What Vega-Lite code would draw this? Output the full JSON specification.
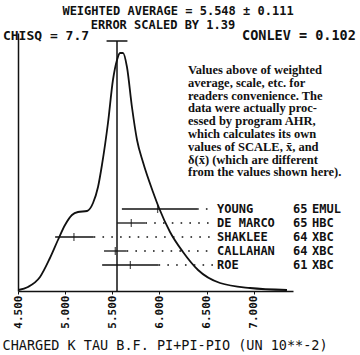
{
  "$schema": "https://vega.github.io/schema/vega-lite/v6.json",
  "width": 275,
  "height": 258,
  "autosize": {"type": "none"},
  "padding": {"left": 18, "top": 33, "right": 67, "bottom": 64},
  "background": "white",
  "config": {"view": {"stroke": null}, "font": "DejaVu Sans Mono"},
  "datasets": {
    "curve": [
      {"x": 4.5, "h": 1}, {"x": 4.601, "h": 4}, {"x": 4.729, "h": 14}, {"x": 4.835, "h": 33},
      {"x": 4.92, "h": 51}, {"x": 4.995, "h": 66}, {"x": 5.069, "h": 76}, {"x": 5.133, "h": 79},
      {"x": 5.229, "h": 80}, {"x": 5.293, "h": 88}, {"x": 5.346, "h": 104}, {"x": 5.388, "h": 126},
      {"x": 5.452, "h": 168}, {"x": 5.505, "h": 211}, {"x": 5.548, "h": 231}, {"x": 5.58, "h": 238},
      {"x": 5.612, "h": 238}, {"x": 5.654, "h": 224}, {"x": 5.707, "h": 184}, {"x": 5.761, "h": 151},
      {"x": 5.824, "h": 129}, {"x": 5.931, "h": 99}, {"x": 5.995, "h": 83}, {"x": 6.112, "h": 59},
      {"x": 6.25, "h": 39}, {"x": 6.41, "h": 21}, {"x": 6.644, "h": 8}, {"x": 6.963, "h": 3},
      {"x": 7.356, "h": 1}
    ],
    "meas": [
      {"name": "YOUNG", "year": "65", "tech": "EMUL", "value": 5.98, "lo": 5.6, "hi": 6.4, "order": 1},
      {"name": "DE MARCO", "year": "65", "tech": "HBC", "value": 5.7, "lo": 5.55, "hi": 5.85, "order": 2},
      {"name": "SHAKLEE", "year": "64", "tech": "XBC", "value": 5.09, "lo": 4.89, "hi": 5.3, "order": 3},
      {"name": "CALLAHAN", "year": "64", "tech": "XBC", "value": 5.53, "lo": 5.41, "hi": 5.65, "order": 4},
      {"name": "ROE", "year": "61", "tech": "XBC", "value": 5.69, "lo": 5.39, "hi": 5.99, "order": 5}
    ]
  },
  "resolve": {"scale": {"y": "independent"}},
  "layer": [
    {
      "layer": [
        {
          "data": {"name": "curve"},
          "mark": {"type": "line", "interpolate": "monotone", "color": "#111", "strokeWidth": 1.8},
          "encoding": {
            "x": {"field": "x", "type": "quantitative",
              "scale": {"domain": [4.495, 7.42], "nice": false, "zero": false},
              "axis": {"values": [4.5, 5, 5.5, 6, 6.5, 7], "format": ".3f", "labelAngle": 270,
                "labelFont": "DejaVu Sans Mono", "labelFontSize": 11, "labelFontWeight": "bold", "labelColor": "#111",
                "labelPadding": 1, "tickSize": 3, "tickColor": "#111", "domainColor": "#111", "domainWidth": 1.5,
                "grid": false, "labelOverlap": false, "labelFlush": false,
                "title": "CHARGED K TAU B.F. PI+PI-PIO (UN 10**-2)", "titleFont": "DejaVu Sans Mono",
                "titleFontSize": 13.5, "titleFontWeight": "normal", "titleColor": "#111",
                "titleAnchor": "start", "titleAlign": "left", "titleX": -16, "titleY": 54, "titleBaseline": "middle"}},
            "y": {"field": "h", "type": "quantitative",
              "scale": {"domain": [0, 258], "nice": false, "zero": false},
              "axis": {"orient": "left", "ticks": false, "labels": false, "grid": false, "title": null,
                "domainColor": "#111", "domainWidth": 1.5}}
          }
        },
        {
          "data": {"values": [{}]},
          "mark": {"type": "rule", "color": "#111", "strokeWidth": 1.5},
          "encoding": {"x": {"datum": 5.548}, "y": {"datum": 0}, "y2": {"datum": 250}}
        },
        {
          "data": {"values": [{}]},
          "mark": {"type": "rule", "color": "#111", "strokeWidth": 1.5},
          "encoding": {"x": {"datum": 5.437}, "x2": {"datum": 5.659}, "y": {"datum": 250}}
        },
        {
          "data": {"values": [{}]},
          "mark": {"type": "text", "text": "WEIGHTED AVERAGE = 5.548 ± 0.111", "font": "DejaVu Sans Mono",
            "fontSize": 12, "fontWeight": "bold", "color": "#111", "align": "center", "baseline": "middle"},
          "encoding": {"x": {"datum": 6.197}, "y": {"datum": 280.5}}
        },
        {
          "data": {"values": [{}]},
          "mark": {"type": "text", "text": "ERROR SCALED BY 1.39", "font": "DejaVu Sans Mono",
            "fontSize": 12, "fontWeight": "bold", "color": "#111", "align": "center", "baseline": "middle"},
          "encoding": {"x": {"datum": 6.037}, "y": {"datum": 266.5}}
        },
        {
          "data": {"values": [{}]},
          "mark": {"type": "text", "text": "CHISQ = 7.7", "font": "DejaVu Sans Mono",
            "fontSize": 13, "fontWeight": "bold", "color": "#111", "align": "left", "baseline": "middle"},
          "encoding": {"x": {"datum": 4.335}, "y": {"datum": 255}}
        },
        {
          "data": {"values": [{}]},
          "mark": {"type": "text", "text": "CONLEV = 0.102", "font": "DejaVu Sans Mono",
            "fontSize": 13.5, "fontWeight": "bold", "color": "#111", "align": "left", "baseline": "middle"},
          "encoding": {"x": {"datum": 6.878}, "y": {"datum": 255}}
        },
        {
          "data": {"values": [{}]},
          "mark": {"type": "text",
            "text": ["Values above of weighted", "average, scale, etc. for", "readers convenience.  The",
              "data were actually proc-", "essed by program AHR,", "which calculates its own",
              "values of SCALE, x\u0304, and", "\u03b4(x\u0304) (which are different", "from the values shown here)."],
            "font": "Liberation Serif", "fontSize": 12.5, "fontWeight": "bold", "lineHeight": 12.8, "color": "#111",
            "align": "left", "baseline": "top"},
          "encoding": {"x": {"datum": 6.303}, "y": {"datum": 227}}
        }
      ]
    },
    {
      "data": {"name": "meas"},
      "encoding": {
        "y": {"field": "order", "type": "quantitative",
          "scale": {"domain": [-11.571, 6.857], "reverse": true, "nice": false, "zero": false},
          "axis": null}
      },
      "layer": [
        {
          "mark": {"type": "rule", "color": "#111", "strokeWidth": 1.3},
          "encoding": {"x": {"field": "lo", "type": "quantitative"}, "x2": {"field": "hi"}}
        },
        {
          "mark": {"type": "tick", "orient": "vertical", "size": 8, "thickness": 1.3, "color": "#111"},
          "encoding": {"x": {"field": "value", "type": "quantitative"}}
        },
        {
          "mark": {"type": "rule", "color": "#111", "strokeWidth": 1.6, "strokeDash": [1.6, 7.2]},
          "encoding": {"x": {"field": "hi", "type": "quantitative"}, "x2": {"datum": 6.58}}
        },
        {
          "mark": {"type": "text", "font": "DejaVu Sans Mono", "fontSize": 12, "fontWeight": "bold",
            "color": "#111", "align": "left", "baseline": "middle"},
          "encoding": {"x": {"datum": 6.612}, "text": {"field": "name"}}
        },
        {
          "mark": {"type": "text", "font": "DejaVu Sans Mono", "fontSize": 12, "fontWeight": "bold",
            "color": "#111", "align": "left", "baseline": "middle"},
          "encoding": {"x": {"datum": 7.42}, "text": {"field": "year"}}
        },
        {
          "mark": {"type": "text", "font": "DejaVu Sans Mono", "fontSize": 12, "fontWeight": "bold",
            "color": "#111", "align": "left", "baseline": "middle"},
          "encoding": {"x": {"datum": 7.622}, "text": {"field": "tech"}}
        }
      ]
    }
  ]
}
